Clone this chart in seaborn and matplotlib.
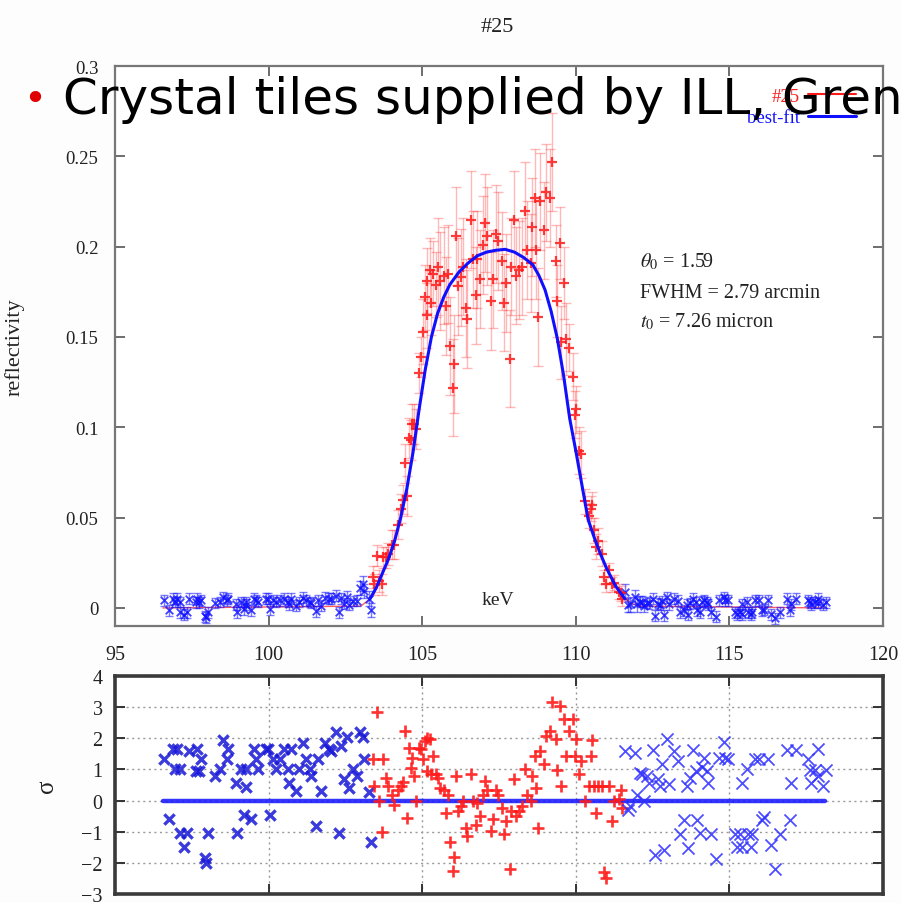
import matplotlib
matplotlib.use("Agg")
import matplotlib.pyplot as plt
from matplotlib.lines import Line2D
import pandas as pd
import seaborn as sns

# ---- low-energy wing (blue): energy [keV], reflectivity, error, residual [sigma]
left_keV = [96.59, 96.76, 96.89, 97.02, 96.96, 97.13, 97.11, 97.33, 97.24, 97.41,
            97.67, 97.81, 97.63, 97.73, 97.92, 97.95, 98.03, 98.25, 98.41, 98.51,
            98.68, 98.66, 98.93, 98.98, 99.11, 99.25, 99.27, 99.19, 99.42, 99.51,
            99.60, 99.65, 99.90, 99.98, 100.03, 100.14, 100.25, 100.36, 100.49, 100.73,
            100.63, 100.68, 100.88, 100.98, 101.11, 101.22, 101.35, 101.39, 101.53, 101.60,
            101.71, 101.82, 101.96, 102.03, 102.20, 102.28, 102.36, 102.54, 102.47, 102.63,
            102.74, 102.87, 102.98, 103.08, 103.12, 103.26, 103.33]
left_refl = [0.0042, -0.0012, 0.0051, 0.0051, 0.0033, 0.0033, -0.0024, -0.0024, -0.0037, 0.0050,
             0.0051, 0.0042, 0.0032, 0.0032, -0.0047, -0.0051, -0.0024, 0.0027, 0.0033, 0.0060,
             0.0051, 0.0042, 0.0021, -0.0024, 0.0033, 0.0017, 0.0033, -0.0008, -0.0012, 0.0051,
             0.0042, 0.0033, 0.0051, 0.0051, -0.0008, 0.0042, 0.0033, 0.0042, 0.0051, 0.0051,
             0.0033, 0.0021, 0.0013, 0.0033, 0.0057, 0.0042, 0.0033, 0.0027, -0.0018, 0.0042,
             0.0013, 0.0057, 0.0051, 0.0050, 0.0067, -0.0024, 0.0054, 0.0062, 0.0024, 0.0016,
             0.0038, 0.0040, 0.0110, 0.0135, 0.0095, 0.0052, -0.0010]
left_err = [0.003, 0.003, 0.003, 0.003, 0.003, 0.003, 0.003, 0.003, 0.003, 0.003,
            0.003, 0.003, 0.003, 0.003, 0.003, 0.003, 0.003, 0.003, 0.003, 0.003,
            0.003, 0.003, 0.003, 0.003, 0.003, 0.003, 0.003, 0.003, 0.003, 0.003,
            0.003, 0.003, 0.003, 0.003, 0.003, 0.003, 0.003, 0.003, 0.003, 0.003,
            0.003, 0.003, 0.003, 0.003, 0.003, 0.003, 0.003, 0.003, 0.003, 0.003,
            0.003, 0.003, 0.003, 0.003, 0.003, 0.003, 0.003, 0.003, 0.003, 0.003,
            0.003, 0.003, 0.004, 0.004, 0.004, 0.004, 0.004]
left_sigma = [1.32, -0.59, 1.65, 1.65, 1.0, 1.0, -1.04, -1.04, -1.5, 1.59,
              1.65, 1.32, 0.95, 0.95, -1.85, -2.0, -1.04, 0.78, 1.0, 1.95,
              1.65, 1.32, 0.57, -1.04, 1.0, 0.44, 1.0, -0.45, -0.59, 1.65,
              1.32, 1.0, 1.65, 1.65, -0.45, 1.32, 1.0, 1.32, 1.65, 1.65,
              1.0, 0.57, 0.3, 1.0, 1.86, 1.32, 1.0, 0.78, -0.83, 1.32,
              0.3, 1.86, 1.65, 1.59, 2.2, -1.04, 1.75, 2.05, 0.68, 0.41,
              1.0, 0.78, 2.2, 2.05, 1.34, 0.27, -1.34]

# ---- diffraction peak (red)
red_keV = [103.39, 103.44, 103.52, 103.60, 103.69, 103.73, 103.82, 103.90, 104.03, 104.09,
           104.20, 104.31, 104.36, 104.45, 104.52, 104.58, 104.63, 104.68, 104.74, 104.79,
           104.88, 104.95, 105.01, 105.10, 105.17, 105.25, 105.36, 105.17, 105.28, 105.44,
           105.53, 105.57, 105.71, 105.79, 105.85, 105.90, 106.04, 106.00, 106.11, 106.17,
           106.25, 106.33, 106.43, 106.47, 106.58, 106.66, 106.74, 106.79, 106.87, 106.98,
           107.05, 107.12, 107.23, 107.31, 107.39, 107.48, 107.59, 107.66, 107.72, 107.85,
           107.88, 107.99, 108.04, 108.15, 108.26, 108.34, 108.42, 108.53, 108.58, 108.67,
           108.71, 108.77, 108.85, 108.96, 109.03, 109.15, 109.23, 109.36, 109.39, 109.48,
           109.53, 109.61, 109.68, 109.77, 109.90, 109.97, 110.01, 110.10, 110.18, 110.29,
           110.42, 110.48, 110.53, 110.58, 110.66, 110.72, 110.85, 111.09, 111.18, 110.91,
           110.98, 111.23, 111.40, 111.48, 111.50]
red_refl = [0.017, 0.013, 0.029, 0.015, 0.013, 0.028, 0.028, 0.030, 0.035, 0.035,
            0.046, 0.055, 0.060, 0.080, 0.062, 0.094, 0.093, 0.102, 0.102, 0.099,
            0.130, 0.139, 0.153, 0.172, 0.181, 0.187, 0.185, 0.162, 0.169, 0.179,
            0.189, 0.181, 0.184, 0.167, 0.185, 0.145, 0.135, 0.122, 0.206, 0.178,
            0.183, 0.189, 0.166, 0.160, 0.215, 0.193, 0.173, 0.193, 0.182, 0.201,
            0.213, 0.206, 0.170, 0.182, 0.207, 0.203, 0.192, 0.169, 0.180, 0.138,
            0.189, 0.215, 0.184, 0.187, 0.189, 0.220, 0.198, 0.191, 0.211, 0.227,
            0.198, 0.161, 0.225, 0.209, 0.230, 0.227, 0.247, 0.192, 0.170, 0.202,
            0.147, 0.180, 0.149, 0.144, 0.128, 0.107, 0.110, 0.087, 0.085, 0.059,
            0.051, 0.055, 0.057, 0.043, 0.034, 0.037, 0.030, 0.021, 0.013, 0.017,
            0.013, 0.014, 0.009, 0.008, 0.005]
red_err = [0.006, 0.006, 0.006, 0.006, 0.006, 0.006, 0.006, 0.006, 0.008, 0.008,
           0.008, 0.008, 0.008, 0.011, 0.011, 0.011, 0.011, 0.011, 0.011, 0.011,
           0.011, 0.011, 0.018, 0.018, 0.018, 0.018, 0.018, 0.018, 0.018, 0.018,
           0.027, 0.027, 0.027, 0.027, 0.027, 0.027, 0.027, 0.027, 0.027, 0.027,
           0.027, 0.027, 0.027, 0.027, 0.027, 0.027, 0.027, 0.027, 0.027, 0.027,
           0.027, 0.027, 0.027, 0.027, 0.027, 0.027, 0.027, 0.027, 0.027, 0.027,
           0.027, 0.027, 0.027, 0.027, 0.027, 0.027, 0.027, 0.027, 0.027, 0.027,
           0.027, 0.027, 0.027, 0.027, 0.027, 0.027, 0.027, 0.020, 0.020, 0.020,
           0.020, 0.020, 0.020, 0.013, 0.013, 0.013, 0.013, 0.013, 0.013, 0.007,
           0.007, 0.007, 0.007, 0.007, 0.007, 0.007, 0.007, 0.004, 0.004, 0.004,
           0.004, 0.004, 0.004, 0.004, 0.004]
red_sigma = [1.34, 0.46, 2.83, -0.02, -1.02, 1.34, 0.73, 0.46, 0.19, -0.13,
             0.35, 0.46, 0.59, 2.24, -0.56, 1.7, 1.05, 1.37, 0.78, -0.02,
             1.7, 1.65, 1.34, 1.91, 2.02, 1.98, 1.43, 0.95, 0.84, 0.84,
             0.73, 0.41, 0.35, -0.4, 0.19, -1.34, -1.8, -2.25, 0.78, -0.34,
             -0.18, -0.02, -0.88, -1.15, 0.84, -0.02, -0.77, -0.08, -0.48, 0.19,
             0.62, 0.35, -0.99, -0.59, 0.35, 0.19, -0.24, -1.06, -0.66, -2.21,
             -0.34, 0.68, -0.48, -0.34, -0.18, 1.0, 0.19, -0.02, 0.78, 1.43,
             0.41, -0.88, 1.59, 1.16, 2.07, 2.24, 3.15, 1.97, 0.98, 3.04,
             0.48, 2.61, 1.43, 2.24, 2.61, 1.43, 1.98, 0.84, 1.26, -0.02,
             0.46, 1.43, 1.94, 0.46, -0.4, 0.46, 0.46, 0.46, -0.64, -2.29,
             -2.5, -0.02, 0.05, 0.35, -0.24]

# ---- high-energy wing (blue)
right_keV = [111.59, 111.70, 111.77, 111.94, 111.99, 112.10, 112.21, 112.15, 112.31, 112.37,
             112.50, 112.58, 112.67, 112.75, 112.80, 112.86, 112.96, 113.04, 113.21, 113.32,
             113.40, 113.51, 113.65, 113.62, 113.72, 113.80, 113.90, 113.94, 114.05, 114.10,
             114.16, 114.26, 114.30, 114.40, 114.55, 114.66, 114.81, 114.86, 114.97, 115.18,
             115.24, 115.34, 115.40, 115.42, 115.56, 115.62, 115.72, 115.70, 115.83, 115.96,
             116.05, 116.13, 116.27, 116.37, 116.48, 116.64, 116.86, 116.97, 117.02, 117.18,
             117.56, 117.62, 117.67, 117.78, 117.89, 117.89, 118.05, 118.13]
right_refl = [0.0090, 0.0015, 0.0020, 0.0060, 0.0020, 0.0035, 0.0010, 0.0034, 0.0030, 0.0025,
              0.0050, -0.0044, 0.0024, 0.0018, 0.0037, -0.0040, 0.0060, 0.0020, 0.0050, 0.0040,
              -0.0025, -0.0012, -0.0038, 0.0018, 0.0025, 0.0050, 0.0032, -0.0012, -0.0024, 0.0035,
              0.0043, 0.0032, 0.0021, -0.0025, -0.0048, 0.0043, 0.0058, 0.0043, 0.0042, -0.0025,
              -0.0036, -0.0025, -0.0036, 0.0021, 0.0033, -0.0025, -0.0025, -0.0036, 0.0042, 0.0043,
              -0.0012, -0.0010, 0.0042, -0.0035, -0.0057, -0.0025, 0.0050, -0.0012, 0.0020, 0.0050,
              0.0042, 0.0032, 0.0020, 0.0032, 0.0051, 0.0027, 0.0018, 0.0032]
right_err = [0.004, 0.004, 0.004, 0.004, 0.004, 0.003, 0.003, 0.003, 0.003, 0.003,
             0.003, 0.003, 0.003, 0.003, 0.003, 0.003, 0.003, 0.003, 0.003, 0.003,
             0.003, 0.003, 0.003, 0.003, 0.003, 0.003, 0.003, 0.003, 0.003, 0.003,
             0.003, 0.003, 0.003, 0.003, 0.003, 0.003, 0.003, 0.003, 0.003, 0.003,
             0.003, 0.003, 0.003, 0.003, 0.003, 0.003, 0.003, 0.003, 0.003, 0.003,
             0.003, 0.003, 0.003, 0.003, 0.003, 0.003, 0.003, 0.003, 0.003, 0.003,
             0.003, 0.003, 0.003, 0.003, 0.003, 0.003, 0.003, 0.003]
right_sigma = [1.59, -0.29, -0.18, 1.52, 0.19, 0.87, -0.02, 0.84, 0.78, 0.57,
               1.62, -1.74, 0.68, 0.46, 1.16, -1.58, 1.97, 0.52, 1.59, 1.26,
               -1.06, -0.61, -1.53, 0.46, 0.73, 1.62, 0.95, -0.61, -1.04, 1.08,
               1.37, 0.95, 0.57, -1.06, -1.89, 1.37, 1.88, 1.37, 1.32, -1.06,
               -1.48, -1.06, -1.48, 0.57, 1.0, -1.06, -1.06, -1.48, 1.32, 1.34,
               -0.61, -0.53, 1.32, -1.42, -2.21, -1.06, 1.62, -0.61, 0.55, 1.62,
               1.32, 0.98, 0.55, 0.98, 1.65, 0.78, 0.46, 0.98]

# ---- best-fit reflectivity profile
fit_keV = [96.56, 103.0, 103.3, 103.5, 103.7, 103.9, 104.1, 104.3, 104.5, 104.7, 104.9,
           105.1, 105.3, 105.5, 105.7, 105.9, 106.2, 106.5, 106.8, 107.1, 107.4,
           107.7, 108.0, 108.3, 108.6, 108.8, 109.0, 109.2, 109.4, 109.6, 109.8,
           110.0, 110.2, 110.4, 110.6, 110.8, 111.0, 111.3, 111.6, 112.0, 118.1]
fit_refl = [0.0, 0.001, 0.005, 0.011, 0.019, 0.027, 0.037, 0.050, 0.066, 0.086, 0.110,
            0.132, 0.150, 0.163, 0.172, 0.179, 0.186, 0.191, 0.195, 0.197, 0.198,
            0.1985, 0.197, 0.194, 0.190, 0.184, 0.176, 0.164, 0.149, 0.129, 0.105,
            0.087, 0.068, 0.049, 0.039, 0.030, 0.022, 0.012, 0.005, 0.001, 0.0]
fit_range = (103.1, 111.8)
residual_span = [96.56, 118.1]

x_ticks = [95, 100, 105, 110, 115, 120]
refl_ticks = [0, 0.05, 0.1, 0.15, 0.2, 0.25, 0.3]
refl_labels = ["0", "0.05", "0.1", "0.15", "0.2", "0.25", "0.3"]
sigma_ticks = [-3, -2, -1, 0, 1, 2, 3, 4]

fit_line = pd.DataFrame({"keV": fit_keV, "refl": fit_refl})
fit_core = fit_line[(fit_line.keV >= fit_range[0]) & (fit_line.keV <= fit_range[1])]

sns.set_theme(style="ticks")
plt.rcParams["font.family"] = ["Liberation Serif", "DejaVu Serif"]
plt.rcParams["mathtext.fontset"] = "stix"
plt.rcParams["axes.facecolor"] = "white"

BLUE = "#1010ff"
RED = "#ff1a1a"
TXT = "#222222"

fig = plt.figure(figsize=(9.01, 9.04), dpi=100)
fig.patch.set_facecolor("#fdfdfd")
ax = fig.add_axes([115 / 901, 277 / 904, 768 / 901, 560 / 904])
ax2 = fig.add_axes([115 / 901, 9 / 904, 768 / 901, 218 / 904])

# ---------------- reflectivity panel ----------------
for xs, ys, es in [(left_keV, left_refl, left_err), (right_keV, right_refl, right_err)]:
    ax.errorbar(xs, ys, yerr=es, fmt="none", ecolor=BLUE, elinewidth=1.0,
                capsize=3, capthick=1.0, alpha=0.55, zorder=2)
    sns.scatterplot(x=xs, y=ys, marker="x", color=BLUE, s=30, linewidth=1.3,
                    alpha=0.8, ax=ax, zorder=3, legend=False)
ax.errorbar(red_keV, red_refl, yerr=red_err, fmt="none", ecolor=RED, elinewidth=1.0,
            capsize=3.5, capthick=1.0, alpha=0.3, zorder=2)
sns.scatterplot(x=red_keV, y=red_refl, marker="+", color=RED, s=55, linewidth=1.6,
                alpha=0.85, ax=ax, zorder=3, legend=False)

sns.lineplot(data=fit_line, x="keV", y="refl", color=RED, linewidth=1.0, alpha=0.7,
             sort=False, estimator=None, ax=ax, zorder=1)
sns.lineplot(data=fit_core, x="keV", y="refl", color=BLUE, linewidth=2.2,
             sort=False, estimator=None, ax=ax, zorder=4)

ax.set_xlim(95, 120)
ax.set_ylim(-0.01, 0.3)
ax.set_xticks(x_ticks[1:-1])
ax.set_xticklabels([])
ax.set_yticks(refl_ticks)
ax.set_yticklabels(refl_labels)
ax.tick_params(axis="both", direction="in", length=7, width=1.2, color="#555555",
               top=True, right=True, labelsize=13.5, labelcolor=TXT, pad=12)
ax.set_xlabel("")
ax.set_ylabel("reflectivity", fontsize=16, color=TXT)
ax.yaxis.set_label_coords(-0.118, 0.5)
for sp in ax.spines.values():
    sp.set_color("#777777")
    sp.set_linewidth(1.6)

ax.text(0.684, 0.652, r"$\theta_0$ = 1.59", transform=ax.transAxes, fontsize=14.5,
        color=TXT, va="center")
ax.text(0.684, 0.595, "FWHM = 2.79 arcmin", transform=ax.transAxes, fontsize=14.5,
        color=TXT, va="center")
ax.text(0.684, 0.545, r"$t_0$ = 7.26 micron", transform=ax.transAxes, fontsize=14.5,
        color=TXT, va="center")
ax.text(0.499, 0.048, "keV", transform=ax.transAxes, fontsize=14, color=TXT,
        ha="center", va="center")

handles = [Line2D([], [], color=RED, linewidth=1.5), Line2D([], [], color=BLUE, linewidth=2.2)]
ax.legend(handles, ["#25", "best-fit"], loc="upper right", bbox_to_anchor=(0.975, 0.975),
          frameon=False, markerfirst=False, handlelength=2.6, handletextpad=0.4,
          labelspacing=0.25, borderaxespad=0, fontsize=13.5, labelcolor=[RED, BLUE])

# ---------------- residual panel ----------------
sns.lineplot(x=residual_span, y=[0, 0], color=BLUE, linewidth=3.2, alpha=0.85,
             ax=ax2, zorder=2)
sns.scatterplot(x=left_keV, y=left_sigma, marker="x", color="#1818d8", s=55,
                linewidth=2.4, alpha=0.85, ax=ax2, zorder=3, legend=False)
sns.scatterplot(x=red_keV, y=red_sigma, marker="+", color=RED, s=70, linewidth=1.9,
                alpha=0.9, ax=ax2, zorder=3, legend=False)
sns.scatterplot(x=right_keV, y=right_sigma, marker="x", color="#3030ff", s=75,
                linewidth=1.3, alpha=0.85, ax=ax2, zorder=3, legend=False)

ax2.set_xlim(95, 120)
ax2.set_ylim(-3, 4)
ax2.set_xticks(x_ticks)
ax2.set_yticks(sigma_ticks)
ax2.grid(True, linestyle=(0, (1.5, 2.5)), color="#9a9a9a", linewidth=1.0)
ax2.xaxis.tick_top()
ax2.tick_params(axis="x", which="both", top=True, bottom=True, labeltop=True,
                labelbottom=False)
ax2.tick_params(axis="both", direction="in", length=7, width=1.4, color="#333333",
                right=True, labelsize=14.5, labelcolor=TXT, pad=9)
ax2.set_xlabel("")
ax2.set_ylabel("σ", fontsize=18, color=TXT, rotation=90)
ax2.yaxis.set_label_coords(-0.074, 0.5)
for sp in ax2.spines.values():
    sp.set_color("#3a3a3a")
    sp.set_linewidth(2.6)

# ---------------- figure texts ----------------
fig.text(497 / 901, 1 - 27 / 904, "#25", ha="center", va="center", fontsize=16, color=TXT)
fig.text(0.038, 1 - 100 / 904, "•", ha="center", va="center", fontsize=28, color="#e00000",
         family="DejaVu Sans", zorder=10)
fig.text(63 / 901, 1 - 114 / 904, "Crystal tiles supplied by ILL, Grenoble", ha="left",
         va="baseline", fontsize=36, color="black", family="DejaVu Sans", zorder=10)

fig.savefig("out.png", dpi=100)
